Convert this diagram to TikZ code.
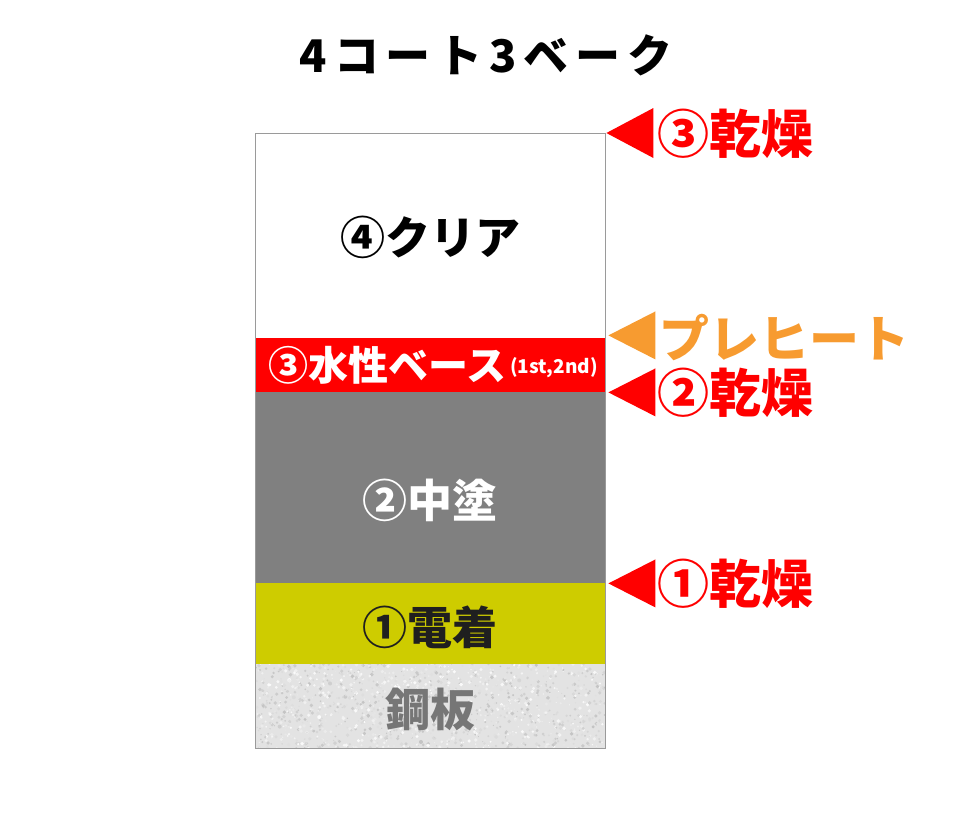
\documentclass[tikz,border=0pt]{standalone}
\usepackage{fontspec}
\newfontfamily\jp{Noto Sans CJK JP}
\newfontfamily\jptitle{Noto Sans CJK JP}[LetterSpace=15]
\definecolor{layergray}{HTML}{808080}
\definecolor{edyellow}{HTML}{CECC00}
\definecolor{preorange}{HTML}{F79B30}
\definecolor{steeltext}{HTML}{767676}
\definecolor{boxline}{HTML}{9A9A9A}
\tikzset{
  layer/.style={anchor=north west, inner sep=0pt, minimum width=350pt, draw=none},
  layertext/.style={font=\jp\bfseries\fontsize{45}{45}\selectfont},
  drylabel/.style={anchor=west, inner sep=0pt, text=red, font=\jp\bfseries\fontsize{52}{52}\selectfont},
  marker/.style={fill=red, draw=none}
}
\begin{document}
\begin{tikzpicture}[x=1pt,y=-1pt]
\useasboundingbox (0,0) rectangle (980,820);
% title
\node[inner sep=0pt, font=\jptitle\bfseries\fontsize{45}{45}\selectfont] (title) at (486,55) {4コート3ベーク};
% layers
\node[layer, fill=white, minimum height=205pt] (clear) at (255,133) {};
\node[layer, fill=red, minimum height=54pt] (base) at (255,338) {};
\node[layer, fill=layergray, minimum height=191pt] (mid) at (255,392) {};
\node[layer, fill=edyellow, minimum height=81pt] (ed) at (255,583) {};
\node[layer, fill=black!11, minimum height=84pt] (steel) at (255,664) {};
% steel texture
\begin{scope}
\clip (steel.north west) rectangle (steel.south east);
\pgfmathsetseed{11}
\foreach \i in {1,...,1600}{
  \pgfmathsetmacro\xx{255+350*rnd}
  \pgfmathsetmacro\yy{662+88*rnd}
  \pgfmathsetmacro\gg{int(2+22*rnd)}
  \pgfmathsetmacro\rr{0.5+1.5*rnd}
  \fill[black!\gg] (\xx,\yy) circle[radius=\rr];
}
\end{scope}
% border
\draw[boxline, line width=1pt] (clear.north west) rectangle (steel.south east);
% layer texts
\node[layertext, text=black] (tclear) at (430,237) {④クリア};
\node[anchor=west, inner sep=0pt, text=white, font=\jp\bfseries\fontsize{40}{40}\selectfont] (tbase) at (268,365) {③水性ベース};
\node[anchor=west, inner sep=0pt, text=white, font=\jp\bfseries\fontsize{19}{19}\selectfont] (tbase2) at (510,368) {(1st,2nd)};
\node[layertext, text=white] (tmid) at (430,500) {②中塗};
\node[layertext, text=black!88] (ted) at (430,627) {①電着};
\node[layertext, text=steeltext] (tsteel) at (430,710) {鋼板};
% markers
\fill[marker] ([xshift=1]clear.north east) -- ++(47,-25) -- ++(0,50) -- cycle;
\node[drylabel] (dry3) at (657,134) {③乾燥};
\fill[preorange] ([xshift=3,yshift=3]clear.south east) -- ++(47,-24) -- ++(0,48) -- cycle;
\node[drylabel, text=preorange, font=\jp\bfseries\fontsize{50}{50}\selectfont] (pre) at (659,338) {プレヒート};
\fill[marker] ([xshift=3]base.south east) -- ++(47,-24) -- ++(0,48) -- cycle;
\node[drylabel] (dry2) at (657,393) {②乾燥};
\fill[marker] ([xshift=3]mid.south east) -- ++(47,-24) -- ++(0,48) -- cycle;
\node[drylabel] (dry1) at (657,584) {①乾燥};
\end{tikzpicture}
\end{document}
